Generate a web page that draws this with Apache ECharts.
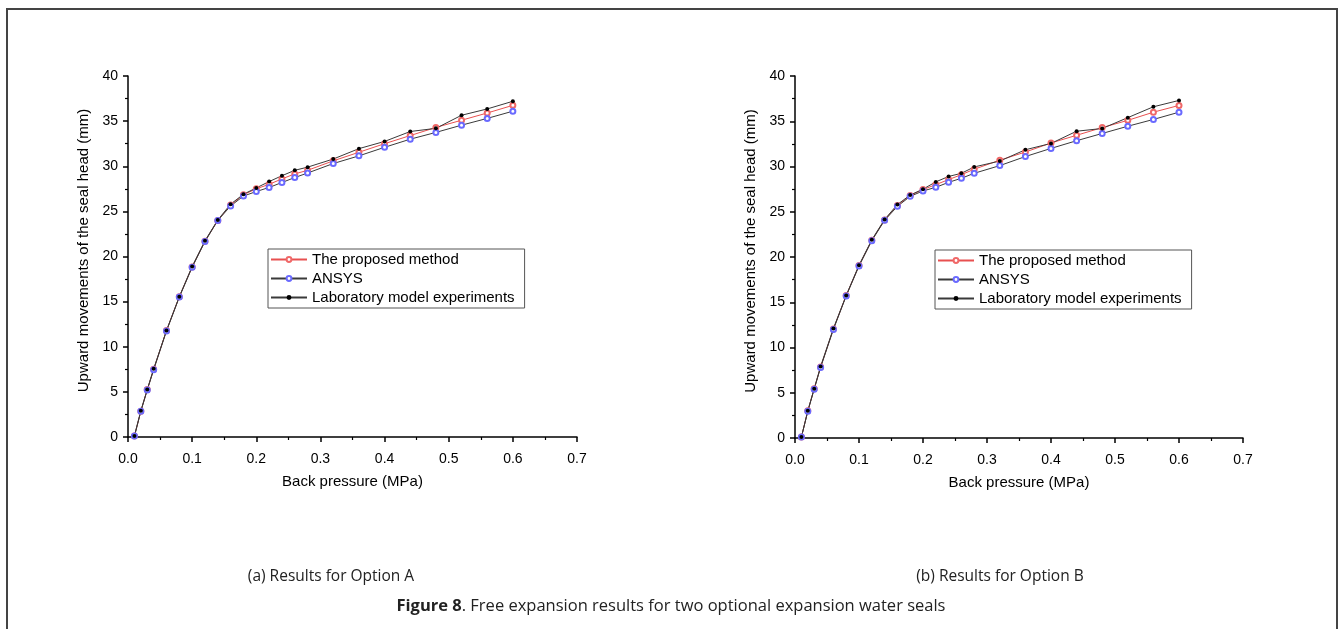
<!DOCTYPE html>
<html>
<head>
<meta charset="utf-8">
<script src="https://cdn.jsdelivr.net/npm/echarts@6/dist/echarts.min.js"></script>
<style>
  html, body { margin: 0; padding: 0; background: #fff; overflow: hidden; }
  #wrap { position: relative; width: 1342px; height: 629px; }
  #frame { position: absolute; left: 6px; top: 8px; width: 1332px; height: 700px; border: 2px solid #444; box-sizing: border-box; }
  #chart { position: absolute; left: 0; top: 0; width: 1342px; height: 629px; }
</style>
</head>
<body>
<div id="wrap">
  <div id="frame"></div>
  <div id="chart"></div>
</div>
<script>
// back pressure (MPa), shared by both options
const pressure = [0.01, 0.02, 0.03, 0.04, 0.06, 0.08, 0.10, 0.12, 0.14, 0.16, 0.18, 0.20,
                  0.22, 0.24, 0.26, 0.28, 0.32, 0.36, 0.40, 0.44, 0.48, 0.52, 0.56, 0.60];

// Option A - upward movements (mm)
const proposedA = [0.1, 2.85, 5.25, 7.5, 11.8, 15.55, 18.85, 21.7, 24.0, 25.7, 26.85, 27.5,
                   28.0, 28.6, 29.15, 29.55, 30.6, 31.55, 32.5, 33.4, 34.3, 35.1, 35.9, 36.75];
const ansysA    = [0.1, 2.85, 5.2, 7.45, 11.75, 15.5, 18.8, 21.65, 24.0, 25.6, 26.7, 27.2,
                   27.65, 28.2, 28.75, 29.25, 30.3, 31.15, 32.1, 33.0, 33.75, 34.55, 35.3, 36.1];
const labA      = [0.1, 2.9, 5.25, 7.55, 11.8, 15.55, 18.9, 21.75, 24.05, 25.8, 26.9, 27.6,
                   28.3, 28.95, 29.55, 29.9, 30.8, 31.95, 32.75, 33.85, 34.2, 35.65, 36.35, 37.2];

// Option B - upward movements (mm)
const proposedB = [0.1, 3.0, 5.45, 7.85, 12.05, 15.75, 19.05, 21.85, 24.1, 25.7, 26.8, 27.45,
                   28.0, 28.55, 29.1, 29.7, 30.7, 31.6, 32.6, 33.45, 34.3, 35.1, 36.0, 36.75];
const ansysB    = [0.1, 2.95, 5.4, 7.8, 12.0, 15.7, 19.0, 21.8, 24.05, 25.6, 26.7, 27.3,
                   27.7, 28.25, 28.7, 29.25, 30.1, 31.1, 32.0, 32.85, 33.65, 34.45, 35.2, 36.0];
const labB      = [0.1, 3.0, 5.45, 7.9, 12.1, 15.75, 19.1, 21.9, 24.15, 25.8, 26.85, 27.5,
                   28.3, 28.9, 29.25, 29.95, 30.6, 31.85, 32.55, 33.9, 34.2, 35.4, 36.6, 37.3];

const seriesNames = ['The proposed method', 'ANSYS', 'Laboratory model experiments'];
const captions = ['(a) Results for Option A', '(b) Results for Option B'];
const xName = 'Back pressure (MPa)';
const yName = 'Upward movements of the seal head (mm)';

const pair = ys => pressure.map((x, i) => [x, ys[i]]);
const axisFont = { fontFamily: 'Liberation Sans, Arial, sans-serif', color: '#000' };

function xAxis(gi) {
    return {
        gridIndex: gi, type: 'value', min: 0, max: 0.7, interval: 0.1,
        name: xName, nameLocation: 'middle', nameGap: 37,
        nameTextStyle: { ...axisFont, fontSize: 15 },
        axisLine: { lineStyle: { color: '#000', width: 1.5 } },
        axisTick: { length: 5, lineStyle: { color: '#000', width: 1.5 } },
        minorTick: { show: true, splitNumber: 2, length: 3, lineStyle: { color: '#000', width: 1.2 } },
        axisLabel: { ...axisFont, fontSize: 14, margin: 15, formatter: v => v.toFixed(1) },
        splitLine: { show: false }
    };
}
function yAxis(gi) {
    return {
        gridIndex: gi, type: 'value', min: 0, max: 40, interval: 5,
        name: yName, nameLocation: 'middle', nameGap: 37,
        nameTextStyle: { ...axisFont, fontSize: 15, padding: [0, 0, 0, 12] },
        axisLine: { show: true, lineStyle: { color: '#000', width: 1.5 } },
        axisTick: { show: true, length: 5, lineStyle: { color: '#000', width: 1.5 } },
        minorTick: { show: true, splitNumber: 2, length: 3, lineStyle: { color: '#000', width: 1.2 } },
        axisLabel: { ...axisFont, fontSize: 14, margin: 10 },
        splitLine: { show: false }
    };
}
function lines(gi, p, a, l) {
    return [
        { name: seriesNames[0], type: 'line', xAxisIndex: gi, yAxisIndex: gi, data: pair(p),
          symbol: 'emptyCircle', symbolSize: 5,
          lineStyle: { color: '#e85050', width: 1 }, itemStyle: { color: '#f06868', borderWidth: 1 } },
        { name: seriesNames[1], type: 'line', xAxisIndex: gi, yAxisIndex: gi, data: pair(a),
          symbol: 'emptyCircle', symbolSize: 5,
          lineStyle: { color: '#3a3a3a', width: 1 }, itemStyle: { color: '#6a6aff', borderWidth: 1 } },
        { name: seriesNames[2], type: 'line', xAxisIndex: gi, yAxisIndex: gi, data: pair(l),
          symbol: 'circle', symbolSize: 4,
          lineStyle: { color: '#3a3a3a', width: 1 }, itemStyle: { color: '#000' } }
    ];
}
function legend(left, top) {
    return {
        data: seriesNames, orient: 'vertical', left: left, top: top,
        itemWidth: 36, itemHeight: 6, itemGap: 4,
        padding: [3, 10, 3, 2], borderColor: '#555', borderWidth: 1,
        selectedMode: false,
        textStyle: { fontFamily: 'Liberation Sans, Arial, sans-serif', fontSize: 15, color: '#000', lineHeight: 15 }
    };
}

const capFont = '"Open Sans", "Noto Sans", sans-serif';
const chart = echarts.init(document.getElementById('chart'));
chart.setOption({
    animation: false,
    backgroundColor: 'transparent',
    grid: [
        { left: 128, top: 76, width: 449, height: 361 },
        { left: 795, top: 76, width: 448, height: 362 }
    ],
    xAxis: [xAxis(0), xAxis(1)],
    yAxis: [yAxis(0), yAxis(1)],
    legend: [legend(268, 249), legend(935, 250)],
    series: [...lines(0, proposedA, ansysA, labA), ...lines(1, proposedB, ansysB, labB)],
    graphic: [
        { type: 'text', x: 331, y: 577, style: { text: captions[0], font: '15.5px ' + capFont, fill: '#222',
          align: 'center', verticalAlign: 'middle' } },
        { type: 'text', x: 1000, y: 577, style: { text: captions[1], font: '15.5px ' + capFont, fill: '#222',
          align: 'center', verticalAlign: 'middle' } },
        { type: 'text', x: 671, y: 606, style: {
            text: '{b|Figure 8}. Free expansion results for two optional expansion water seals',
            font: '16.5px ' + capFont, fill: '#222', align: 'center', verticalAlign: 'middle',
            rich: { b: { fontWeight: 'bold', fontFamily: capFont, fontSize: 16.5, fill: '#222' } }
        } }
    ]
});
</script>
</body>
</html>
